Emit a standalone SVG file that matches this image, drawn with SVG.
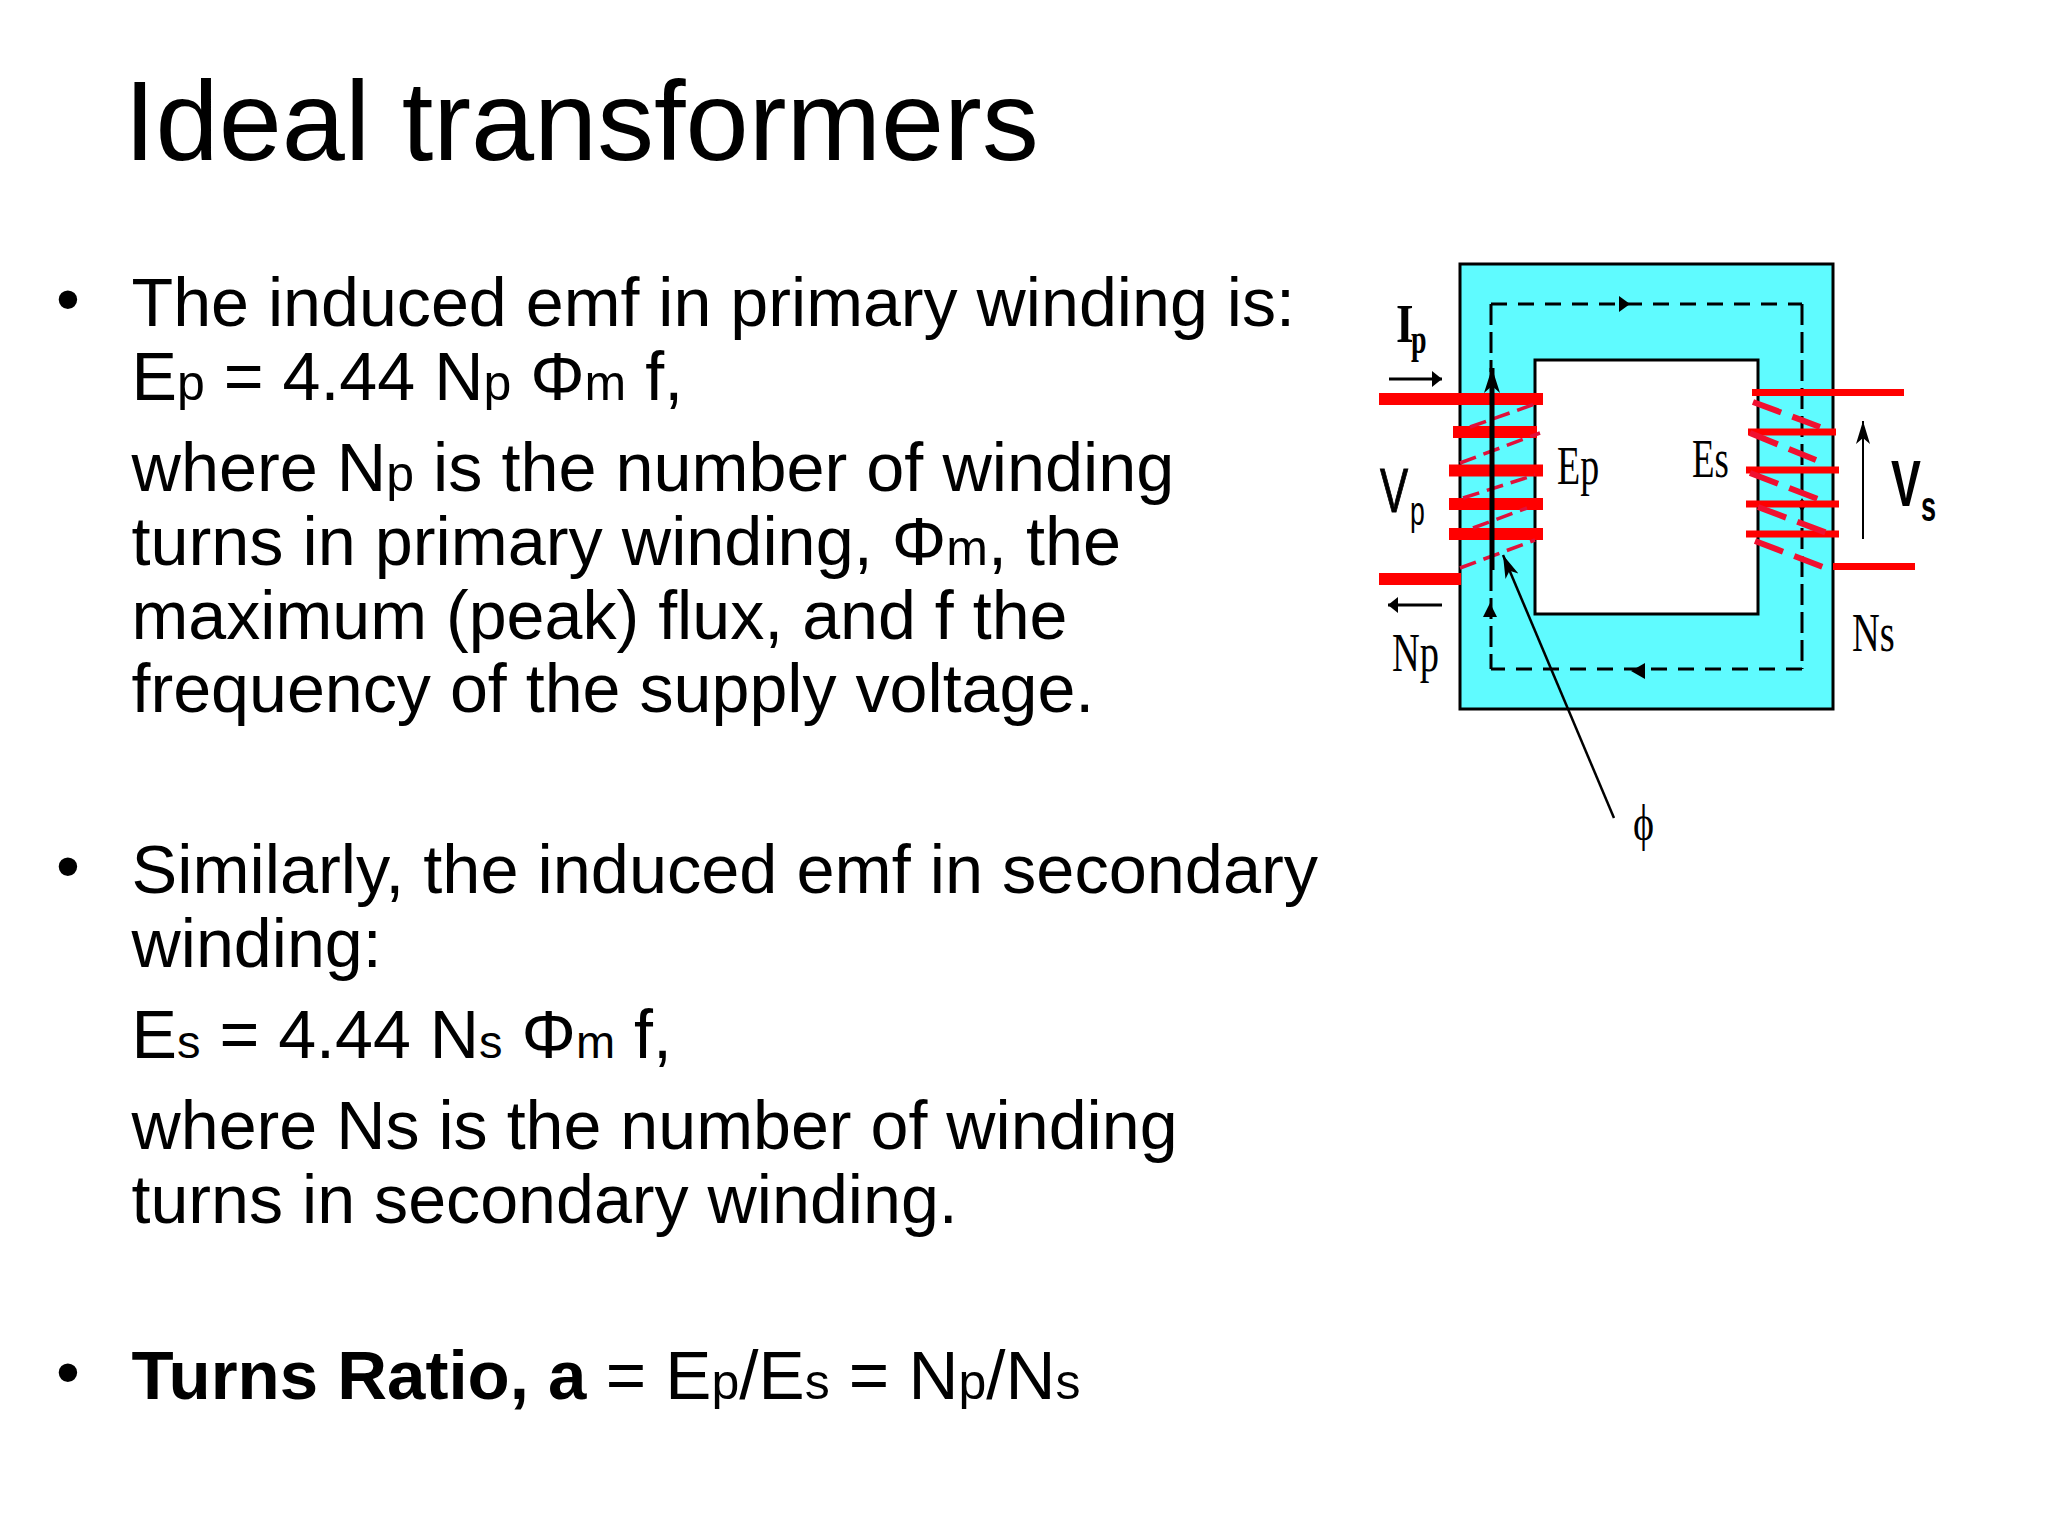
<svg xmlns="http://www.w3.org/2000/svg" width="2048" height="1536" viewBox="0 0 2048 1536">
<style>
text{font-family:"Liberation Sans",Arial,sans-serif;fill:#000}
.b{font-size:68.2px}
.w{font-size:68.4px}
.s{font-size:50px}
.t{font-size:47px}
.l{font-size:69.2px}
.se{font-family:"Liberation Serif","Times New Roman",serif;font-size:55px}
.red{stroke:#f00;fill:none}
.d{stroke:#e0103a;stroke-width:3.5;stroke-dasharray:17 8;fill:none}
.ds{stroke:#f01030;stroke-width:6;stroke-dasharray:30 12;fill:none}
.k{stroke:#000;fill:none}
</style>
<defs>
<marker id="big" markerUnits="userSpaceOnUse" markerWidth="30" markerHeight="20" refX="25" refY="8" orient="auto"><path d="M0 0L25 8L0 16L7 8Z" fill="#000"/></marker>
<marker id="thin" markerUnits="userSpaceOnUse" markerWidth="30" markerHeight="20" refX="23" refY="7" orient="auto"><path d="M0 0L23 7L0 14L6 7Z" fill="#000"/></marker>
<marker id="blk" markerUnits="userSpaceOnUse" markerWidth="14" markerHeight="20" refX="10" refY="8" orient="auto"><path d="M0 0L10 8L0 16Z" fill="#000"/></marker>
</defs>
<rect width="2048" height="1536" fill="#fff"/>
<text x="124" y="160" font-size="113.5">Ideal transformers</text>
<g id="text-body">
<text x="56" y="322" class="b">•</text>
<text x="131.500" y="326" class="b">The induced emf in primary winding is:</text>
<text x="131.500" y="400" class="b">E<tspan class="s">p</tspan> = 4.44 N<tspan class="s">p</tspan> Φ<tspan class="s">m</tspan> f,</text>
<text x="131.500" y="491" class="w">where N<tspan class="s">p</tspan> is the number of winding</text>
<text x="131.500" y="565" class="w">turns in primary winding, Φ<tspan class="s">m</tspan>, the</text>
<text x="131.500" y="639" class="b">maximum (peak) flux, and f the</text>
<text x="131.500" y="712" class="b">frequency of the supply voltage.</text>
<text x="56" y="889" class="b">•</text>
<text x="131.500" y="893" class="b" style="font-size:68.5px">Similarly, the induced emf in secondary</text>
<text x="131.500" y="967" class="b">winding:</text>
<text x="131.500" y="1058" class="b">E<tspan class="t">s</tspan> = 4.44 N<tspan class="t">s</tspan> Φ<tspan class="t">m</tspan> f,</text>
<text x="131.500" y="1149" class="b">where Ns is the number of winding</text>
<text x="131.500" y="1223" class="b">turns in secondary winding.</text>
<text x="56" y="1395" class="b">•</text>
<text x="131.500" y="1399" class="l"><tspan font-weight="bold" style="font-size:69px">Turns Ratio, a</tspan> = E<tspan class="s">p</tspan>/E<tspan class="s">s</tspan> = N<tspan class="s">p</tspan>/N<tspan class="s">s</tspan></text>
</g>
<g id="core">
<rect x="1460" y="264" width="373" height="445" fill="#5ffbff" stroke="#000" stroke-width="3"/>
<rect x="1535" y="360" width="223" height="254" fill="#fff" stroke="#000" stroke-width="3"/>
<path d="M1491 304H1802M1802 669H1491" class="k" stroke-width="3" stroke-dasharray="16 11"/>
<path d="M1491 304V372M1491 570V669M1802 304V669" class="k" stroke-width="3" stroke-dasharray="21 7"/>
<path d="M1619 296L1630 304L1619 312Z" fill="#000"/>
<path d="M1631 671L1645 663V679Z" fill="#000"/>
<path d="M1490 603L1483 617H1497Z" fill="#000"/>
<path d="M1802 498L1806 505L1802 512L1798 505Z" fill="#000"/>
</g>
<g id="primary-winding">
<path d="M1379 399H1543M1453 432H1537M1449 470.500H1543M1449 504H1543M1449 534H1543M1379 579H1461" class="red" stroke-width="12"/>
<path d="M1470 427L1535 404M1460 463L1540 433M1463 498L1535 475M1473 528L1527 508M1460 568L1535 540" class="d"/>
</g>
<g id="secondary-winding">
<path d="M1752 392.500H1904M1748 432H1836M1746 470H1839M1746 504H1839M1746 534H1839M1833 566.500H1915" class="red" stroke-width="7"/>
<path d="M1753 402L1820 427M1750 433L1816 460M1750 473L1818 499M1758 507L1827 533M1755 541L1823 567" class="ds"/>
</g>
<g id="connectors">
<path d="M1492 570V368" class="k" stroke-width="5" marker-end="url(#big)"/>
<path d="M1614 818L1503 555" class="k" stroke-width="2.5" marker-end="url(#thin)"/>
<path d="M1389 379H1442" class="k" stroke-width="3" marker-end="url(#blk)"/>
<path d="M1442 605H1388" class="k" stroke-width="3" marker-end="url(#blk)"/>
<path d="M1863 539V421" class="k" stroke-width="2" marker-end="url(#thin)"/>
</g>
<g id="labels">
<text transform="translate(1396 342) scale(.82 1)" class="se" font-weight="bold">I</text>
<text transform="translate(1411 353) scale(.7 1)" style="font-family:'Liberation Serif',serif;font-weight:bold" font-size="40">p</text>
<text transform="translate(1380 512) scale(.67 1)" font-size="63" stroke="#000" stroke-width="1">V</text>
<text transform="translate(1410 525) scale(.65 1)" font-size="41">p</text>
<text transform="translate(1392 671) scale(.7 1)" class="se">Np</text>
<text transform="translate(1557 484) scale(.69 1)" class="se">Ep</text>
<text transform="translate(1692 477) scale(.67 1)" class="se">Es</text>
<text transform="translate(1852 651) scale(.7 1)" class="se">Ns</text>
<text transform="translate(1891 506) scale(.7 1)" font-size="64" font-weight="bold">V</text>
<text transform="translate(1921 521) scale(.63 1)" font-size="43" font-weight="bold">s</text>
<text transform="translate(1633 840) scale(.8 1)" class="se" style="font-size:50px">ϕ</text>
</g>
</svg>
